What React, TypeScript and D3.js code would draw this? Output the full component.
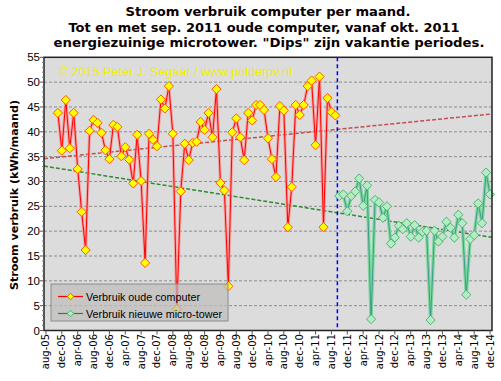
import React from "react";
import * as d3 from "d3";

// ---- data ----
const MONTHS = ["jan", "feb", "mrt", "apr", "mei", "jun", "jul", "aug", "sep", "okt", "nov", "dec"];
const START_YEAR = 2005;
const START_MONTH = 7; // aug
const CATEGORY_COUNT = 113; // aug-05 .. dec-14
const categories: string[] = Array.from({ length: CATEGORY_COUNT }, (_, i) => {
  const m = (START_MONTH + i) % 12;
  const y = START_YEAR + Math.floor((START_MONTH + i) / 12);
  return `${MONTHS[m]}-${String(y % 100).padStart(2, "0")}`;
});
const tickLabels = [
  "aug-05", "dec-05", "apr-06", "aug-06", "dec-06", "apr-07", "aug-07", "dec-07",
  "apr-08", "aug-08", "dec-08", "apr-09", "aug-09", "dec-09", "apr-10", "aug-10",
  "dec-10", "apr-11", "aug-11", "dec-11", "apr-12", "aug-12", "dec-12", "apr-13",
  "aug-13", "dec-13", "apr-14", "aug-14", "dec-14",
];
const yTicks = [0, 5, 10, 15, 20, 25, 30, 35, 40, 45, 50, 55];

// old computer: nov-05 .. sep-11
const oldStart = "nov-05";
const oldValues = [
  43.8, 36.2, 46.4, 36.7, 43.8, 32.5, 23.9, 16.2, 40.2, 42.4,
  41.8, 39.8, 36.3, 34.5, 41.4, 41.0, 35.1, 36.9, 34.4, 29.6,
  39.4, 30.1, 13.6, 39.6, 38.4, 37.1, 46.5, 44.7, 49.2, 39.6,
  4.3, 28.0, 37.6, 34.3, 37.8, 38.0, 42.0, 40.4, 43.8, 38.9,
  48.6, 29.7, 28.2, 8.9, 39.9, 42.7, 38.9, 34.3, 43.8, 42.3,
  45.4, 45.4, 44.4, 38.7, 34.5, 30.9, 45.2, 44.3, 20.8, 28.9,
  45.4, 43.4, 45.4, 49.2, 50.3, 37.3, 51.1, 20.8, 46.8, 44.0,
  43.3,
];
// new micro-tower: okt-11 .. dec-14
const newStart = "okt-11";
const newValues = [
  27.1, 27.4, 24.0, 27.1, 28.0, 30.6, 25.1, 29.2, 2.3, 26.3,
  25.8, 22.7, 25.0, 17.5, 18.7, 21.1, 20.4, 21.6, 18.9, 21.2,
  18.7, 19.9, 20.1, 2.1, 20.1, 17.9, 18.9, 21.9, 20.7, 18.7,
  23.3, 21.6, 7.2, 18.4, 19.2, 25.6, 21.6, 31.8, 27.4,
];
// trend lines: value at left and right edge of the plot
const oldTrend = [34.6, 43.6];
const newTrend = [33.1, 18.75];
const switchMonth = "okt-11";

const titleLines = [
  "Stroom verbruik  computer per maand.",
  "Tot en met sep. 2011 oude computer, vanaf okt. 2011",
  "energiezuinige  microtower. \"Dips\" zijn vakantie periodes.",
];
const legendLabels = ["Verbruik oude computer", "Verbruik nieuwe micro-tower"];

// ---- layout ----
const W = 501, H = 381;
const PL = 44, PR = 492, PT = 57.3, PB = 330.5;

const x = d3.scaleBand<string>().domain(categories).range([PL, PR]).paddingInner(0).paddingOuter(0);
const cx = (c: string) => (x(c) as number) + x.bandwidth() / 2;
const y = d3.scaleLinear().domain([0, 55]).range([PB, PT]);

const oldPts = oldValues.map((v, i) => ({ c: categories[categories.indexOf(oldStart) + i], v }));
const newPts = newValues.map((v, i) => ({ c: categories[categories.indexOf(newStart) + i], v }));

const line = d3.line<{ c: string; v: number }>().x((d) => cx(d.c)).y((d) => y(d.v));
const diamond = (r: number) => `M0,${-r}L${r},0L0,${r}L${-r},0Z`;

export default function App() {
  const minorTicks = d3.range(0, 56, 1).filter((v) => v % 5 !== 0);
  const switchX = x(switchMonth) as number;
  return (
    <svg width={W} height={H} style={{ position: "absolute", left: 0, top: 0, background: "#fff" }}>
      <rect x={0} y={0} width={W} height={H} fill="#fff" />
      {/* title */}
      {titleLines.map((t, i) => (
        <text key={i} x={[268, 264, 269][i]} y={[16, 31.5, 46.5][i]} textAnchor="middle"
          fontFamily="DejaVu Sans" fontWeight="bold" fontSize={12} fill="#0a0000"
          textLength={[285, 391, 431][i]} lengthAdjust="spacingAndGlyphs">{t}</text>
      ))}
      {/* plot area */}
      <rect x={PL} y={PT} width={PR - PL} height={PB - PT} fill="#dcdcdc" />
      {yTicks.filter((v) => v > 0 && v < 55).map((v) => (
        <line key={v} x1={PL} x2={PR} y1={y(v)} y2={y(v)} stroke="#8c8c8c" strokeWidth={1} strokeDasharray="3,2" />
      ))}
      {/* watermark */}
      <text x={59} y={76} fontFamily="Liberation Sans" fontSize={12.5} fill="#f0f000"
        textLength={233} lengthAdjust="spacingAndGlyphs">© 2015 Peter J. Segaar / www.polderpv.nl</text>
      {/* trend lines */}
      <line x1={PL} x2={PR} y1={y(oldTrend[0])} y2={y(oldTrend[1])} stroke="#c0504d" strokeWidth={1.5} strokeDasharray="4,2" />
      <line x1={PL} x2={PR} y1={y(newTrend[0])} y2={y(newTrend[1])} stroke="#2e8b2e" strokeWidth={1.5} strokeDasharray="4,2" />
      {/* switch line */}
      <line x1={switchX} x2={switchX} y1={PT} y2={PB} stroke="#0000ff" strokeWidth={1.5} strokeDasharray="4,3" />
      {/* old series */}
      <path d={line(oldPts) || ""} fill="none" stroke="#ff8c8c" strokeWidth={3} strokeOpacity={0.75} />
      <path d={line(oldPts) || ""} fill="none" stroke="#ff0000" strokeWidth={1} />
      {oldPts.map((d, i) => (
        <path key={i} d={diamond(4.6)} transform={`translate(${cx(d.c)},${y(d.v)})`} fill="#ffff00" stroke="#ff5a00" strokeWidth={1} />
      ))}
      {/* new series */}
      <path d={line(newPts) || ""} fill="none" stroke="#7ed69e" strokeWidth={3.4} />
      <path d={line(newPts) || ""} fill="none" stroke="#0b7a78" strokeWidth={0.6} />
      {newPts.map((d, i) => (
        <path key={i} d={diamond(4.6)} transform={`translate(${cx(d.c)},${y(d.v)})`} fill="#b4ecc4" stroke="#4fb574" strokeWidth={1} />
      ))}
      {/* plot border */}
      <rect x={PL} y={PT} width={PR - PL} height={PB - PT} fill="none" stroke="#222" strokeWidth={1.5} />
      {/* y axis */}
      {yTicks.map((v) => (
        <g key={v}>
          <line x1={PL - 4} x2={PL} y1={y(v)} y2={y(v)} stroke="#555" />
          <text x={40} y={y(v) + 4} textAnchor="end" fontFamily="Liberation Sans" fontSize={11.5} fill="#000">{v}</text>
        </g>
      ))}
      {minorTicks.map((v) => (
        <line key={"m" + v} x1={PL - 2} x2={PL} y1={y(v)} y2={y(v)} stroke="#777" />
      ))}
      <text transform={`translate(18,195) rotate(-90)`} textAnchor="middle" fontFamily="DejaVu Sans" fontWeight="bold"
        fontSize={11} fill="#0a0000" textLength={190} lengthAdjust="spacingAndGlyphs">Stroom verbruik (kWh/maand)</text>
      {/* x axis */}
      {tickLabels.map((t) => (
        <g key={t}>
          <line x1={cx(t)} x2={cx(t)} y1={PB} y2={PB + 4} stroke="#555" />
          <text transform={`translate(${cx(t)},334) rotate(-90)`} dy="0.35em" textAnchor="end"
            fontFamily="DejaVu Sans" fontSize={10} fill="#000">{t}</text>
        </g>
      ))}
      {/* legend */}
      <rect x={51} y={284} width={177} height={37} fill="#c0bcbc" fillOpacity={0.72} stroke="#8c8c8c" strokeWidth={1} />
      <line x1={58} x2={83} y1={296.5} y2={296.5} stroke="#ff0000" strokeWidth={1.2} />
      <path d={diamond(3.2)} transform="translate(70.5,296.5)" fill="#ffff00" stroke="#ff5a00" strokeWidth={1} />
      <text x={86} y={300.5} fontFamily="Liberation Sans" fontSize={10.5} fill="#000" textLength={114} lengthAdjust="spacingAndGlyphs">{legendLabels[0]}</text>
      <line x1={58} x2={83} y1={313.5} y2={313.5} stroke="#1e8a3c" strokeWidth={1.2} />
      <path d={diamond(3.2)} transform="translate(70.5,313.5)" fill="#b4ecc4" stroke="#4fb574" strokeWidth={1} />
      <text x={86} y={317.5} fontFamily="Liberation Sans" fontSize={10.5} fill="#000" textLength={136} lengthAdjust="spacingAndGlyphs">{legendLabels[1]}</text>
    </svg>
  );
}
